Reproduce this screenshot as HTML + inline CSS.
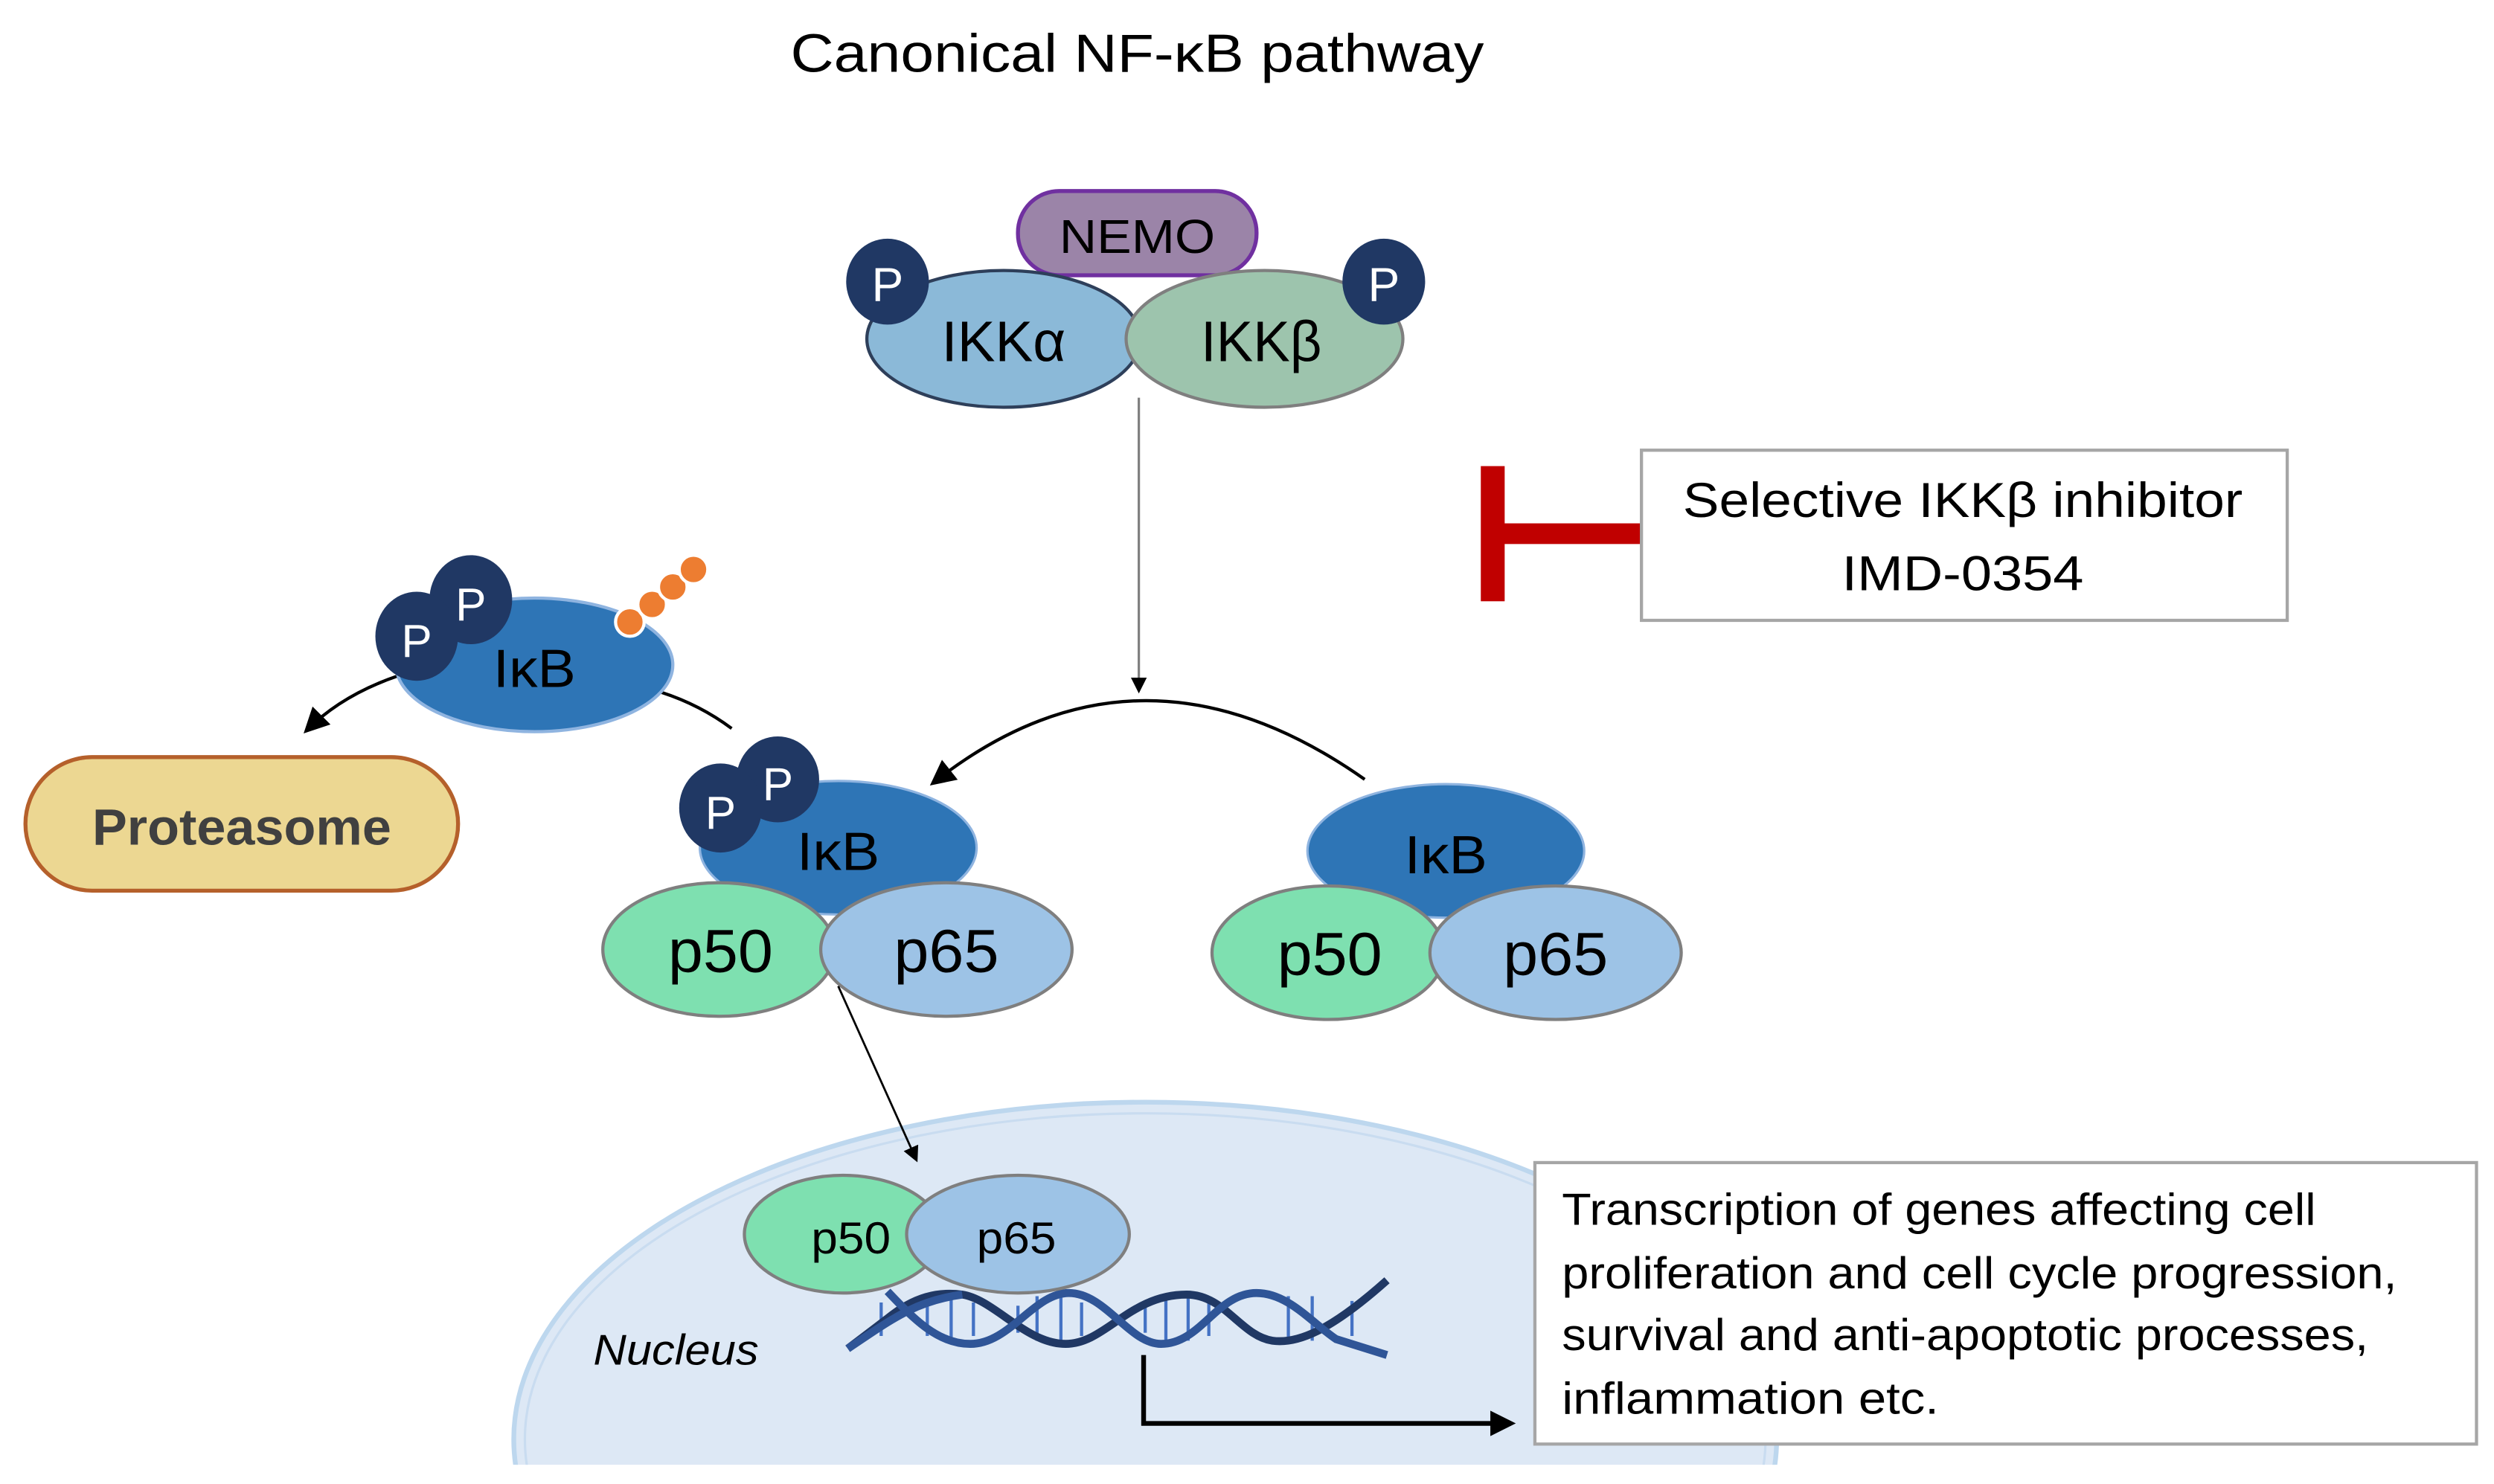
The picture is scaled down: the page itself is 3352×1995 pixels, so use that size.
<!DOCTYPE html>
<html><head><meta charset="utf-8"><style>
html,body{margin:0;padding:0;background:#fff;width:3352px;height:1995px;overflow:hidden;}
svg{display:block;vertical-align:top;}
text{font-family:"Liberation Sans",sans-serif;}
</style></head><body>
<svg width="3352" height="1995" viewBox="0 0 1568 933" xmlns="http://www.w3.org/2000/svg">
<defs>
<marker id="ah" markerWidth="10" markerHeight="10" refX="8" refY="5" orient="auto" markerUnits="userSpaceOnUse"><path d="M0,0 L10,5 L0,10 z" fill="#000"/></marker>
<marker id="ah2" markerWidth="16" markerHeight="16" refX="13" refY="8" orient="auto" markerUnits="userSpaceOnUse"><path d="M0,0 L16,8 L0,16 z" fill="#000"/></marker>
<clipPath id="cut"><rect x="0" y="0" width="1568" height="921"/></clipPath>
</defs>
<rect width="1568" height="933" fill="#fff"/>
<text x="715" y="45" font-size="34" text-anchor="middle" textLength="436" lengthAdjust="spacingAndGlyphs">Canonical NF-κB pathway</text>

<g clip-path="url(#cut)">
<ellipse cx="720" cy="905" rx="397" ry="212" fill="#dde8f5" stroke="#bdd7ee" stroke-width="3"/>
<ellipse cx="720" cy="905" rx="390" ry="205" fill="none" stroke="#c9dcf0" stroke-width="1.5"/>
</g>

<rect x="640" y="120" width="150" height="53" rx="26" fill="#9b84a8" stroke="#7030a0" stroke-width="2.5"/>
<text x="715" y="159" font-size="30" text-anchor="middle" textLength="98" lengthAdjust="spacingAndGlyphs">NEMO</text>
<ellipse cx="631" cy="213" rx="86" ry="43" fill="#8bb9d8" stroke="#2e3f5a" stroke-width="2"/>
<ellipse cx="795" cy="213" rx="87" ry="43" fill="#9dc4ad" stroke="#7f7f7f" stroke-width="2"/>
<text x="631" y="227" font-size="36" text-anchor="middle" textLength="78" lengthAdjust="spacingAndGlyphs">IKKα</text>
<text x="793" y="227" font-size="36" text-anchor="middle" textLength="76" lengthAdjust="spacingAndGlyphs">IKKβ</text>
<ellipse cx="558" cy="177" rx="26" ry="27" fill="#203864"/>
<text x="558" y="189" font-size="30" fill="#fff" text-anchor="middle">P</text>
<ellipse cx="870" cy="177" rx="26" ry="27" fill="#203864"/>
<text x="870" y="189" font-size="30" fill="#fff" text-anchor="middle">P</text>

<line x1="716" y1="250" x2="716" y2="434" stroke="#7f7f7f" stroke-width="1.5" marker-end="url(#ah)"/>

<rect x="931" y="293" width="15" height="85" fill="#c00000"/>
<rect x="938" y="329" width="94" height="13" fill="#c00000"/>
<rect x="1032" y="283" width="406" height="107" fill="#fff" stroke="#a6a6a6" stroke-width="2"/>
<text x="1234" y="325" font-size="31" text-anchor="middle" textLength="352" lengthAdjust="spacingAndGlyphs">Selective IKKβ inhibitor</text>
<text x="1234" y="371" font-size="31" text-anchor="middle" textLength="152" lengthAdjust="spacingAndGlyphs">IMD-0354</text>

<path d="M858,490 Q716,390 587,492" fill="none" stroke="#000" stroke-width="2" marker-end="url(#ah2)"/>
<path d="M460,458 Q440,443 415,435" fill="none" stroke="#000" stroke-width="2"/>
<path d="M250,425 Q215,437 193,459" fill="none" stroke="#000" stroke-width="2" marker-end="url(#ah2)"/>

<ellipse cx="336" cy="418" rx="87" ry="42" fill="#2e75b6" stroke="#8fb4e0" stroke-width="2"/>
<text x="336" y="432" font-size="34" text-anchor="middle" textLength="52" lengthAdjust="spacingAndGlyphs">IκB</text>
<ellipse cx="296" cy="377" rx="26" ry="28" fill="#203864"/>
<text x="296" y="390" font-size="29" fill="#fff" text-anchor="middle">P</text>
<ellipse cx="262" cy="400" rx="26" ry="28" fill="#203864"/>
<text x="262" y="413" font-size="29" fill="#fff" text-anchor="middle">P</text>
<g fill="#ed7d31" stroke="#fff" stroke-width="2">
<circle cx="396" cy="391" r="9"/><circle cx="410" cy="380" r="9"/><circle cx="423" cy="369" r="9"/><circle cx="436" cy="358" r="9"/>
</g>

<rect x="16" y="476" width="272" height="84" rx="42" fill="#ecd792" stroke="#b5602b" stroke-width="2.5"/>
<text x="152" y="531" font-size="32" font-weight="bold" fill="#404040" text-anchor="middle" textLength="188" lengthAdjust="spacingAndGlyphs">Proteasome</text>

<ellipse cx="527" cy="533" rx="87" ry="42" fill="#2e75b6" stroke="#8fb4e0" stroke-width="1.5"/>
<text x="527" y="547" font-size="34" text-anchor="middle" textLength="52" lengthAdjust="spacingAndGlyphs">IκB</text>
<ellipse cx="489" cy="490" rx="26" ry="27" fill="#203864"/>
<text x="489" y="503" font-size="29" fill="#fff" text-anchor="middle">P</text>
<ellipse cx="453" cy="508" rx="26" ry="28" fill="#203864"/>
<text x="453" y="521" font-size="29" fill="#fff" text-anchor="middle">P</text>
<ellipse cx="452" cy="597" rx="73" ry="42" fill="#7ee0b0" stroke="#7f7f7f" stroke-width="2"/>
<ellipse cx="595" cy="597" rx="79" ry="42" fill="#9dc3e6" stroke="#7f7f7f" stroke-width="2"/>
<text x="453" y="611" font-size="38" text-anchor="middle" textLength="66" lengthAdjust="spacingAndGlyphs">p50</text>
<text x="595" y="611" font-size="38" text-anchor="middle" textLength="66" lengthAdjust="spacingAndGlyphs">p65</text>

<ellipse cx="909" cy="535" rx="87" ry="42" fill="#2e75b6" stroke="#8fb4e0" stroke-width="1.5"/>
<text x="909" y="549" font-size="34" text-anchor="middle" textLength="52" lengthAdjust="spacingAndGlyphs">IκB</text>
<ellipse cx="835" cy="599" rx="73" ry="42" fill="#7ee0b0" stroke="#7f7f7f" stroke-width="2"/>
<ellipse cx="978" cy="599" rx="79" ry="42" fill="#9dc3e6" stroke="#7f7f7f" stroke-width="2"/>
<text x="836" y="613" font-size="38" text-anchor="middle" textLength="66" lengthAdjust="spacingAndGlyphs">p50</text>
<text x="978" y="613" font-size="38" text-anchor="middle" textLength="66" lengthAdjust="spacingAndGlyphs">p65</text>

<line x1="527" y1="620" x2="576" y2="729" stroke="#000" stroke-width="1.3" marker-end="url(#ah)"/>

<g stroke="#4472c4" stroke-width="2">
<line x1="554" y1="819" x2="554" y2="840"/><line x1="583" y1="821" x2="583" y2="840"/><line x1="598" y1="817" x2="598" y2="842"/><line x1="612" y1="819" x2="612" y2="840"/>
<line x1="640" y1="821" x2="640" y2="838"/><line x1="652" y1="815" x2="652" y2="843"/><line x1="667" y1="815" x2="667" y2="843"/><line x1="680" y1="819" x2="680" y2="840"/>
<line x1="720" y1="821" x2="720" y2="838"/><line x1="733" y1="815" x2="733" y2="843"/><line x1="747" y1="815" x2="747" y2="843"/><line x1="760" y1="819" x2="760" y2="840"/>
<line x1="810" y1="815" x2="810" y2="843"/><line x1="825" y1="815" x2="825" y2="843"/><line x1="850" y1="818" x2="850" y2="840"/>
</g>
<path d="M533,848 L558,829 C575,815 590,812 605,814 C625,817 645,845 670,845 C695,845 710,814 746,814 C770,814 780,840 800,843 C815,845 835,838 872,805" fill="none" stroke="#203864" stroke-width="5"/>
<path d="M558,812 C575,830 590,845 610,845 C635,845 650,813 672,813 C695,813 710,845 730,845 C755,845 765,813 790,813 C810,813 825,832 840,842 L872,852" fill="none" stroke="#2f5597" stroke-width="5"/>
<path d="M533,848 C560,830 575,818 605,814" fill="none" stroke="#2f5597" stroke-width="5"/>

<ellipse cx="530" cy="776" rx="62" ry="37" fill="#7ee0b0" stroke="#7f7f7f" stroke-width="2"/>
<ellipse cx="640" cy="776" rx="70" ry="37" fill="#9dc3e6" stroke="#7f7f7f" stroke-width="2"/>
<text x="535" y="788" font-size="28" text-anchor="middle" textLength="50" lengthAdjust="spacingAndGlyphs">p50</text>
<text x="639" y="788" font-size="28" text-anchor="middle" textLength="50" lengthAdjust="spacingAndGlyphs">p65</text>

<text x="373" y="858" font-size="27" font-style="italic" textLength="104" lengthAdjust="spacingAndGlyphs">Nucleus</text>

<path d="M719,852 L719,895 L950,895" fill="none" stroke="#000" stroke-width="3" marker-end="url(#ah2)"/>

<rect x="965" y="731" width="592" height="177" fill="#fff" stroke="#a6a6a6" stroke-width="2"/>
<g font-size="28">
<text x="982" y="770" textLength="474" lengthAdjust="spacingAndGlyphs">Transcription of genes affecting cell</text>
<text x="982" y="810" textLength="525" lengthAdjust="spacingAndGlyphs">proliferation and cell cycle progression,</text>
<text x="982" y="849" textLength="507" lengthAdjust="spacingAndGlyphs">survival and anti-apoptotic processes,</text>
<text x="982" y="889" textLength="237" lengthAdjust="spacingAndGlyphs">inflammation etc.</text>
</g>
</svg>
</body></html>
